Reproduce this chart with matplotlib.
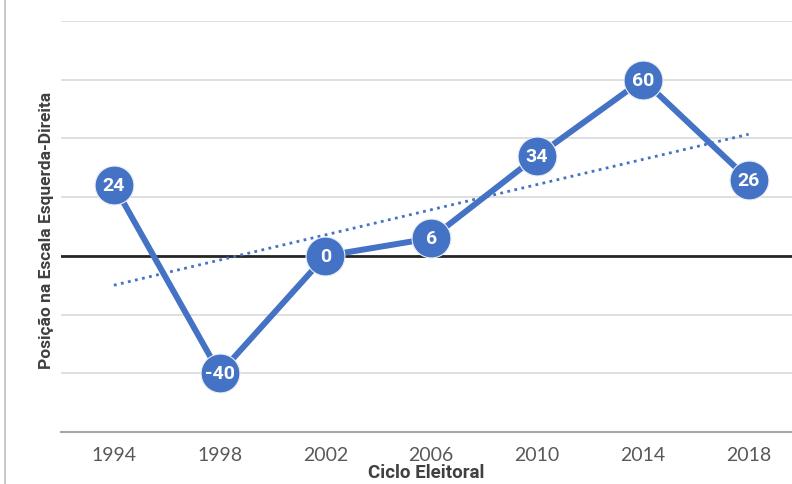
import numpy as np
import matplotlib.pyplot as plt
from matplotlib.lines import Line2D

# ============================================================
# Data
# ============================================================
anos = ["1994", "1998", "2002", "2006", "2010", "2014", "2018"]
posicao = [24, -40, 0, 6, 34, 60, 26]

AZUL = "#4472C4"
FONTE = ["Lato", "DejaVu Sans"]
FONTE_NEGRITO = ["Roboto", "DejaVu Sans"]

# ============================================================
# Figure
# ============================================================
fig = plt.figure(figsize=(7.92, 4.85), dpi=100)
ax = fig.add_axes([61 / 792, 52 / 485, 731 / 792, 411 / 485])

x = np.arange(len(anos))
y = np.array(posicao, dtype=float)

# linear trend
coef = np.polyfit(x, y, 1)
ax.plot(x, np.polyval(coef, x), linestyle=(0, (1, 1.6)), color=AZUL, lw=2, zorder=3)

ax.plot(x, y, color=AZUL, lw=4.3, marker="o", markersize=28,
        markerfacecolor=AZUL, markeredgecolor="#E8EEF8", markeredgewidth=0.8, zorder=4)

for xi, yi in zip(x, posicao):
    ax.text(xi, yi, str(yi), ha="center", va="center", color="white",
            fontsize=14, fontweight="bold", family=FONTE_NEGRITO, zorder=5)

ax.set_xlim(-0.5, 6.41)
ax.set_ylim(-60, 80)
ax.set_yticks(np.arange(-60, 81, 20))
ax.set_yticklabels([])
ax.tick_params(axis="y", length=0)
ax.set_xticks(x)
ax.set_xticklabels(anos, fontsize=14, color="#595959", family=FONTE)
ax.tick_params(axis="x", length=0, pad=10)

ax.grid(axis="y", color="#D9D9D9", lw=1.2)
ax.set_axisbelow(True)
ax.axhline(0, color="#262626", lw=2, zorder=2)

for s in ["top", "right", "left"]:
    ax.spines[s].set_visible(False)
ax.spines["bottom"].set_color("#A6A6A6")
ax.spines["bottom"].set_linewidth(1.5)
ax.spines["bottom"].set_zorder(1)

ax.set_xlabel("Ciclo Eleitoral", fontsize=13.5, fontweight="bold", color="#404040",
              labelpad=0, family=FONTE_NEGRITO)
fig.text(46 / 792, 1 - 230 / 485, "Posição na Escala Esquerda-Direita", rotation=90,
         ha="center", va="center", fontsize=12.5, fontweight="bold", color="#404040",
         family=FONTE_NEGRITO)

# chart border on the left
fig.add_artist(Line2D([5 / 792, 5 / 792], [0, 1], color="#BFBFBF", lw=1.2))

fig.savefig("out.png", dpi=100)
